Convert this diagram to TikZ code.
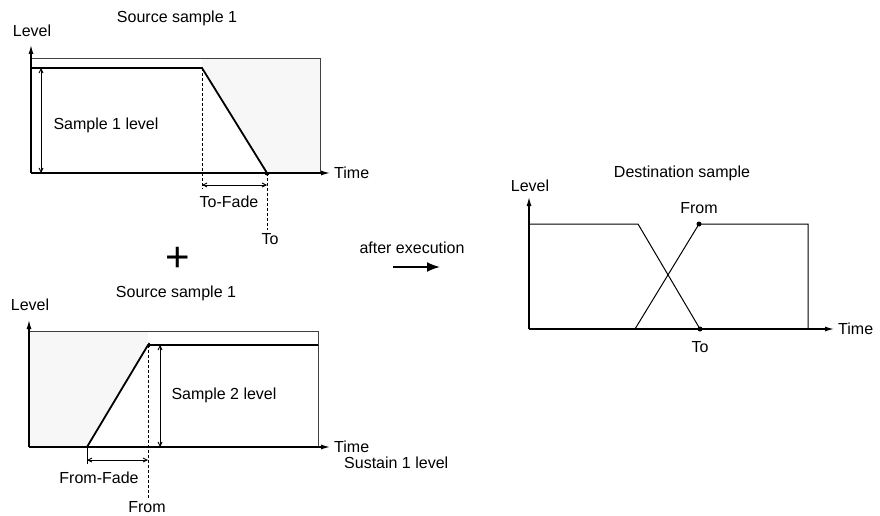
\documentclass[tikz,border=0pt]{standalone}
\usepackage{fontspec}
\setmainfont{Liberation Sans}
\usetikzlibrary{arrows.meta,positioning,calc}

\begin{document}
\begin{tikzpicture}[x=1pt, y=-1pt,
  lbl/.style={font=\fontsize{16}{19}\selectfont, inner sep=1pt},
  axis/.style={-{Latex[length=9pt,width=5pt]}, line width=1.2pt},
  frame/.style={line width=0.9pt, black!75},
  curve/.style={line width=1.8pt},
  thincurve/.style={line width=1pt},
  dim/.style={{Straight Barb[length=4pt,width=4pt]}-{Straight Barb[length=4pt,width=4pt]}, line width=0.9pt},
  guide/.style={dash pattern=on 3pt off 2pt, line width=0.9pt},
  dot/.style={circle, fill, inner sep=0pt, minimum size=5pt},
  stipple/.style={fill=black!3},
  bigarr/.style={-{Latex[length=13pt,width=10pt]}, line width=2pt}
]
\useasboundingbox (0,0) rectangle (880,516);

% source sample 1 (top)
\coordinate (a0) at (31,173);
\coordinate (aY) at (31,45);
\coordinate (aX) at (330,173);
\coordinate (aL) at (31,68);
\coordinate (aK) at (202,68);
\coordinate (aTL) at (31,58);
\coordinate (aTK) at (202,58);
\coordinate (aTR) at (320,58);
\coordinate (aBR) at (320,173);
\node[dot] (to1) at (267,173) {};

\fill[stipple] (aTK) -- (aTR) -- (aBR) -- (to1.center) -- (aK) -- cycle;
\draw[frame] (aL) -- (aTL) -- (aTR) -- (aBR);
\draw[axis] (a0) -- (aY);
\draw[axis] (a0) -- (aX);
\draw[curve] (aL) -- (aK) -- (to1.center);

\node[lbl] (srcA) at (177,18) {Source sample 1};
\node[lbl] (levA) at (32,31) {Level};
\node[lbl, right=3pt of aX] (timeA) {Time};

\coordinate (dAt) at (41,68);
\coordinate (dAb) at (41,173);
\draw[dim] (dAt) -- (dAb);
\node[lbl] (s1lvl) at (106,125) {Sample 1 level};

\coordinate (gAb) at (202,189);
\coordinate (gTb) at (267,230);
\draw[guide] (aK) -- (gAb);
\draw[guide] (to1.center) -- (gTb);
\coordinate (fAl) at (202,185);
\coordinate (fAr) at (267,185);
\draw[dim] (fAl) -- (fAr);
\node[lbl] (tofade) at (229,202) {To-Fade};
\node[lbl] (toA) at (270,239) {To};

\node[font=\fontsize{42}{42}\selectfont, inner sep=0pt] (plus) at (178,259) {+};

% source sample 1 (bottom)
\coordinate (b0) at (29,447);
\coordinate (bY) at (29,320);
\coordinate (bX) at (330,447);
\coordinate (bTL) at (29,331);
\coordinate (bTK) at (148,331);
\coordinate (bTR) at (318,331);
\coordinate (bBR) at (318,447);
\coordinate (bS) at (87,447);
\coordinate (bR) at (318,345);
\node[dot] (from1) at (148,345) {};

\fill[stipple] (bTL) -- (bTK) -- (from1.center) -- (bS) -- (b0) -- cycle;
\draw[frame] (bTL) -- (bTR) -- (bBR);
\draw[axis] (b0) -- (bY);
\draw[axis] (b0) -- (bX);
\draw[curve] (bS) -- (from1.center) -- (bR);

\node[lbl] (srcB) at (176,293) {Source sample 1};
\node[lbl] (levB) at (30,305) {Level};
\node[lbl, right=3pt of bX] (timeB) {Time};
\node[lbl, anchor=west] (sus) at (343,463) {Sustain 1 level};

\coordinate (dBt) at (160,345);
\coordinate (dBb) at (160,447);
\draw[dim] (dBt) -- (dBb);
\node[lbl] (s2lvl) at (224,395) {Sample 2 level};

\coordinate (gBb) at (148,498);
\coordinate (tkB) at (87,464);
\draw[guide] (from1.center) -- (gBb);
\draw[line width=0.9pt] (bS) -- (tkB);
\coordinate (fBl) at (87,460);
\coordinate (fBr) at (148,460);
\draw[dim] (fBl) -- (fBr);
\node[lbl] (fromfade) at (99,478) {From-Fade};
\node[lbl] (fromB) at (147,507) {From};

% after execution
\coordinate (exL) at (393,267);
\coordinate (exR) at (440,267);
\draw[bigarr] (exL) -- (exR);
\node[lbl] (exec) at (412,248) {after execution};

% destination sample
\coordinate (c0) at (529,329);
\coordinate (cY) at (529,197);
\coordinate (cX) at (834,329);
\coordinate (cL) at (529,224);
\coordinate (cK) at (638,224);
\coordinate (cS) at (635,329);
\coordinate (cTR) at (808,224);
\coordinate (cBR) at (808,329);
\node[dot] (to2) at (700,329) {};
\node[dot] (from2) at (699,224) {};

\draw[axis] (c0) -- (cY);
\draw[axis] (c0) -- (cX);
\draw[thincurve] (cL) -- (cK) -- (to2.center);
\draw[thincurve] (cS) -- (from2.center) -- (cTR) -- (cBR);

\node[lbl] (dst) at (682,173) {Destination sample};
\node[lbl] (levC) at (530,186) {Level};
\node[lbl, right=3pt of cX] (timeC) {Time};
\node[lbl] (fromC) at (699,208) {From};
\node[lbl] (toC) at (700,347) {To};
\end{tikzpicture}
\end{document}
